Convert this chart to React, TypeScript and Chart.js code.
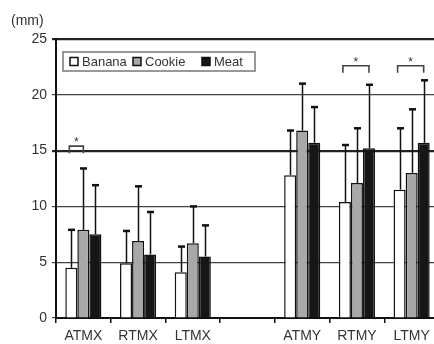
import React, { useEffect, useRef } from "react";
import { Chart, registerables } from "chart.js";

Chart.register(...registerables);

const categories = ["ATMX", "RTMX", "LTMX", "", "ATMY", "RTMY", "LTMY"];
const seriesNames = ["Banana", "Cookie", "Meat"];
const seriesColors = ["#ffffff", "#a8a8a8", "#161616"];
const bananaValues = [4.5, 4.9, 4.1, null, 12.8, 10.4, 11.5];
const cookieValues = [7.9, 6.9, 6.7, null, 16.8, 12.1, 13.0];
const meatValues = [7.5, 5.7, 5.5, null, 15.7, 15.2, 15.7];
const bananaErrTop = [7.9, 7.8, 6.4, null, 16.8, 15.5, 17.0];
const cookieErrTop = [13.4, 11.8, 10.0, null, 21.0, 17.0, 18.7];
const meatErrTop = [11.9, 9.5, 8.3, null, 18.9, 20.9, 21.3];
const yTicks = [0, 5, 10, 15, 20, 25];
const unitLabel = "(mm)";
// significance brackets: category index, from series, to series, level
const bracketCats = [0, 5, 6];
const bracketFrom = [0, 0, 0];
const bracketTo = [1, 2, 2];
const bracketLevel = [15.4, 22.6, 22.6];

const errTops = [bananaErrTop, cookieErrTop, meatErrTop];
const FONT = "Arial, 'Liberation Sans', sans-serif";

const overlayPlugin = {
  id: "overlay",
  afterDatasetsDraw(chart: any) {
    const ctx = chart.ctx;
    const y = chart.scales.y;
    const area = chart.chartArea;
    ctx.save();
    // error bars
    errTops.forEach((arr, di) => {
      const meta = chart.getDatasetMeta(di);
      meta.data.forEach((el: any, i: number) => {
        const v = arr[i];
        if (v == null) return;
        const x = Math.round(el.x) + 0.5;
        const yt = y.getPixelForValue(v);
        ctx.strokeStyle = "#111";
        ctx.lineWidth = 1.5;
        ctx.beginPath();
        ctx.moveTo(x, el.y);
        ctx.lineTo(x, yt);
        ctx.stroke();
        ctx.lineWidth = 2.5;
        ctx.beginPath();
        ctx.moveTo(x - 3.5, yt);
        ctx.lineTo(x + 3.5, yt);
        ctx.stroke();
      });
    });
    // brackets
    bracketCats.forEach((c, k) => {
      const a = chart.getDatasetMeta(bracketFrom[k]).data[c];
      const b = chart.getDatasetMeta(bracketTo[k]).data[c];
      const x1 = a.x - 2;
      const x2 = b.x;
      const yb = y.getPixelForValue(bracketLevel[k]);
      ctx.strokeStyle = "#444";
      ctx.lineWidth = 1.6;
      ctx.beginPath();
      ctx.moveTo(x1, yb + 7);
      ctx.lineTo(x1, yb);
      ctx.lineTo(x2, yb);
      ctx.lineTo(x2, yb + 7);
      ctx.stroke();
      ctx.fillStyle = "#333";
      ctx.font = "12px " + FONT;
      ctx.textAlign = "center";
      ctx.textBaseline = "middle";
      ctx.fillText("*", (x1 + x2) / 2, yb - 3);
    });
    // legend
    const lx = area.left + 7;
    const ly = area.top + 13;
    ctx.fillStyle = "#fff";
    ctx.fillRect(lx, ly, 192, 19);
    ctx.strokeStyle = "#777";
    ctx.lineWidth = 1.5;
    ctx.strokeRect(lx, ly, 192, 19);
    const offs = [7, 70, 139];
    ctx.font = "13px " + FONT;
    ctx.textAlign = "left";
    ctx.textBaseline = "middle";
    seriesNames.forEach((n, i) => {
      const sx = lx + offs[i];
      ctx.fillStyle = seriesColors[i];
      ctx.fillRect(sx, ly + 5.5, 8, 8);
      ctx.strokeStyle = "#111";
      ctx.lineWidth = 1.5;
      ctx.strokeRect(sx, ly + 5.5, 8, 8);
      ctx.fillStyle = "#333";
      ctx.fillText(n, sx + 12, ly + 10);
    });
    // unit label
    ctx.fillStyle = "#333";
    ctx.font = "14px " + FONT;
    ctx.textAlign = "left";
    ctx.textBaseline = "middle";
    ctx.fillText(unitLabel, 11, 21);
    ctx.restore();
  },
};

export default function App() {
  const ref = useRef<HTMLCanvasElement | null>(null);
  useEffect(() => {
    document.body.style.overflow = "hidden";
    const chart = new Chart(ref.current as HTMLCanvasElement, {
      type: "bar",
      data: {
        labels: categories,
        datasets: [bananaValues, cookieValues, meatValues].map((d, i) => ({
          label: seriesNames[i],
          data: d as any,
          backgroundColor: seriesColors[i],
          borderColor: "#111",
          borderWidth: 1.5,
          categoryPercentage: 0.66,
          barPercentage: 1,
        })),
      },
      options: {
        animation: false,
        responsive: false,
        devicePixelRatio: 1,
        layout: { padding: { top: 39, right: 3, left: 0, bottom: 0 } },
        plugins: { legend: { display: false }, tooltip: { enabled: false } },
        scales: {
          x: {
            afterFit: (s: any) => { s.height = 26; },
            grid: { drawOnChartArea: false, drawTicks: true, tickLength: 5, color: "#111", lineWidth: 1.5 },
            border: { color: "#111", width: 2 },
            ticks: { color: "#333", padding: 5, font: { family: FONT, size: 14 } },
          },
          y: {
            min: 0,
            max: 25,
            afterFit: (s: any) => { s.width = 56; },
            afterBuildTicks: (s: any) => { s.ticks = yTicks.map((v) => ({ value: v })); },
            grid: {
              color: (c: any) => (c.tick && (c.tick.value === 15 || c.tick.value === 25) ? "#222" : "#444"),
              lineWidth: (c: any) => (c.tick && (c.tick.value === 15 || c.tick.value === 25) ? 2.2 : 1.2),
              tickLength: 4,
            },
            border: { color: "#111", width: 2 },
            ticks: { color: "#333", padding: 5, font: { family: FONT, size: 14 } },
          },
        },
      },
      plugins: [overlayPlugin],
    } as any);
    return () => chart.destroy();
  }, []);
  return (
    <div style={{ position: "fixed", left: 0, top: 0, width: 442, height: 344, background: "#fff" }}>
      <canvas ref={ref} width={442} height={344} style={{ width: 442, height: 344, display: "block" }} />
    </div>
  );
}
